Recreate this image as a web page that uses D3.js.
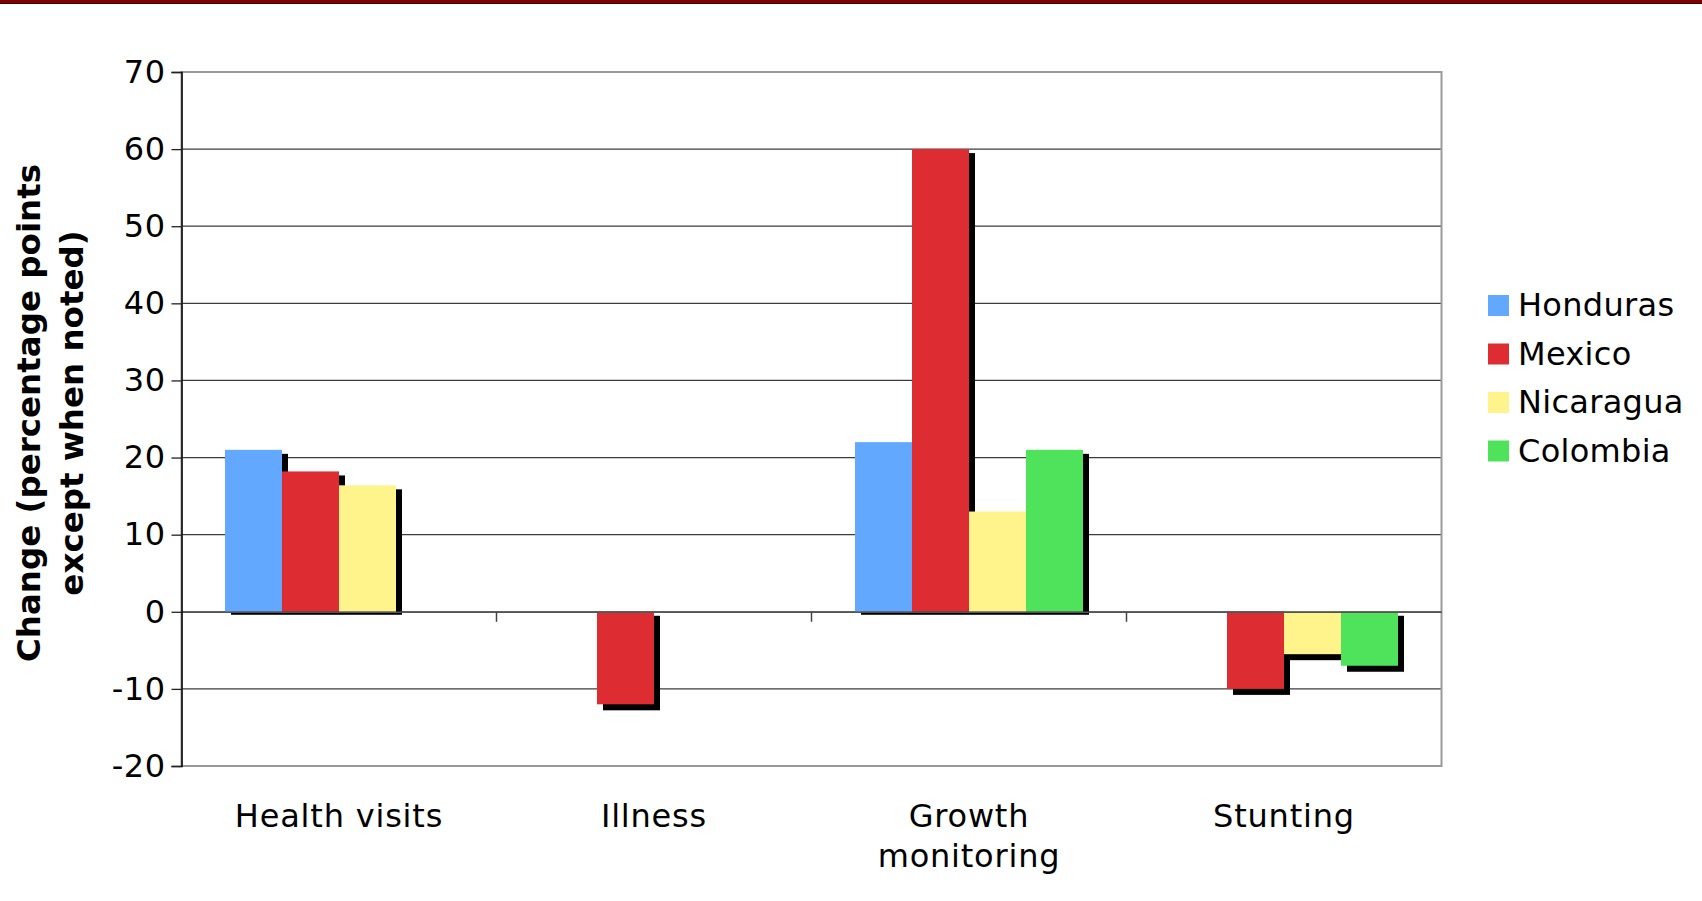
<!DOCTYPE html>
<html>
<head>
<meta charset="utf-8">
<script src="https://cdn.jsdelivr.net/npm/d3@7"></script>
<style>
  body { margin: 0; background: #fff; }
  svg { display: block; font-family: "DejaVu Sans", Verdana, sans-serif; }
</style>
</head>
<body>
<div id="root"></div>
<script>
const categories = ['Health visits', 'Illness', 'Growth\nmonitoring', 'Stunting']
const seriesNames = ['Honduras', 'Mexico', 'Nicaragua', 'Colombia']
const honduras = [21, null, 22, null]
const mexico = [18.2, -12, 60, -10]
const nicaragua = [16.4, null, 13, -5.5]
const colombia = [null, null, 21, -7]
const yTicks = [-20, -10, 0, 10, 20, 30, 40, 50, 60, 70]
const colors = ['#62a8ff', '#de2c33', '#fff38b', '#4ee35a']

const seriesValues = [honduras, mexico, nicaragua, colombia]

const width = 1702
const height = 901
const plot = { left: 181.5, right: 1441.5, top: 72, bottom: 766 }

const svg = d3.select('#root').append('svg')
  .attr('width', width)
  .attr('height', height)

// top banner line
svg.append('rect')
  .attr('x', 0).attr('y', 0)
  .attr('width', width).attr('height', 3)
  .attr('fill', '#800000')
svg.append('rect')
  .attr('x', 0).attr('y', 3)
  .attr('width', width).attr('height', 1)
  .attr('fill', '#3a0000')

const y = d3.scaleLinear()
  .domain([-20, 70])
  .range([plot.bottom, plot.top])

const x0 = d3.scaleBand()
  .domain(categories)
  .range([plot.left, plot.right])

const x1 = d3.scaleBand()
  .domain(seriesNames)
  .range([0, x0.bandwidth()])
  .paddingInner(0)
  .paddingOuter(0.763)

// gridlines
svg.append('g')
  .selectAll('line')
  .data(yTicks.filter(t => t !== -20 && t !== 70))
  .join('line')
  .attr('x1', plot.left).attr('x2', plot.right)
  .attr('y1', d => y(d)).attr('y2', d => y(d))
  .attr('stroke', '#3c3c3c')
  .attr('stroke-width', 1.3)

// plot border (gray)
svg.append('rect')
  .attr('x', plot.left).attr('y', plot.top)
  .attr('width', plot.right - plot.left)
  .attr('height', plot.bottom - plot.top)
  .attr('fill', 'none')
  .attr('stroke', '#9a9a9a')
  .attr('stroke-width', 2)

// bars with drop shadows, series by series
const shadowDx = 6
const shadowDy = 4
seriesNames.forEach((name, si) => {
  const rows = categories
    .map((c, ci) => ({ cat: c, value: seriesValues[si][ci] }))
    .filter(d => d.value !== null)
  const g = svg.append('g')
  g.selectAll('rect.shadow')
    .data(rows)
    .join('rect')
    .attr('class', 'shadow')
    .attr('x', d => x0(d.cat) + x1(name) + shadowDx)
    .attr('y', d => d.value >= 0 ? y(d.value) + shadowDy : y(0) + shadowDy)
    .attr('width', x1.bandwidth())
    .attr('height', d => d.value >= 0
      ? y(0) - y(d.value) - shadowDy + 3
      : y(d.value) - y(0) + 2)
    .attr('fill', '#000')
  g.selectAll('rect.bar')
    .data(rows)
    .join('rect')
    .attr('class', 'bar')
    .attr('x', d => x0(d.cat) + x1(name))
    .attr('y', d => Math.min(y(d.value), y(0)))
    .attr('width', x1.bandwidth())
    .attr('height', d => Math.abs(y(d.value) - y(0)))
    .attr('fill', colors[si])
})

// zero line with category ticks
const xAxis = d3.axisBottom(x0).tickSize(0).tickFormat('')
svg.append('g')
  .attr('transform', `translate(0, ${y(0)})`)
  .call(xAxis)
  .call(g => g.select('.domain').attr('stroke', '#555').attr('stroke-width', 1.5))
svg.append('g')
  .selectAll('line')
  .data(categories.slice(1))
  .join('line')
  .attr('x1', d => x0(d)).attr('x2', d => x0(d))
  .attr('y1', y(0)).attr('y2', y(0) + 10)
  .attr('stroke', '#444')
  .attr('stroke-width', 1.5)

// y axis
const yAxis = d3.axisLeft(y)
  .tickValues(yTicks)
  .tickFormat(d => String(d))
  .tickSize(10)
  .tickPadding(6)
svg.append('g')
  .attr('transform', `translate(${plot.left}, 0)`)
  .call(yAxis)
  .call(g => g.select('.domain').attr('stroke', '#000').attr('stroke-width', 1.5))
  .call(g => g.selectAll('.tick line').attr('stroke', '#222').attr('stroke-width', 1.3))
  .call(g => g.selectAll('.tick text')
    .attr('font-size', 32)
    .attr('letter-spacing', 0.5)
    .attr('fill', '#000')
    .attr('font-family', '"DejaVu Sans", Verdana, sans-serif'))

// category labels
const catLabels = svg.append('g')
  .selectAll('text')
  .data(categories)
  .join('text')
  .attr('x', d => x0(d) + x0.bandwidth() / 2)
  .attr('y', 827)
  .attr('text-anchor', 'middle')
  .attr('font-size', 32)
  .attr('letter-spacing', 0.8)
  .attr('fill', '#000')
catLabels.selectAll('tspan')
  .data(d => d.split('\n'))
  .join('tspan')
  .attr('x', function() { return d3.select(this.parentNode).attr('x') })
  .attr('dy', (d, i) => i === 0 ? 0 : 40)
  .text(d => d)

// y axis title
const title = svg.append('text')
  .attr('transform', 'translate(50, 413) rotate(-90)')
  .attr('text-anchor', 'middle')
  .attr('font-size', 32.5)
  .attr('font-weight', 'bold')
  .attr('fill', '#000')
title.append('tspan').attr('x', 0).attr('dy', -10).text('Change (percentage points')
title.append('tspan').attr('x', 0).attr('dy', 43).text('except when noted)')

// legend
const legend = svg.append('g')
  .selectAll('g')
  .data(seriesNames)
  .join('g')
  .attr('transform', (d, i) => `translate(1488, ${305 + i * 48.5})`)
legend.append('rect')
  .attr('x', 0).attr('y', -10)
  .attr('width', 21).attr('height', 21)
  .attr('fill', (d, i) => colors[i])
legend.append('text')
  .attr('x', 30)
  .attr('y', 11)
  .attr('font-size', 32)
  .attr('letter-spacing', 0.3)
  .attr('fill', '#000')
  .text(d => d)
</script>
</body>
</html>
